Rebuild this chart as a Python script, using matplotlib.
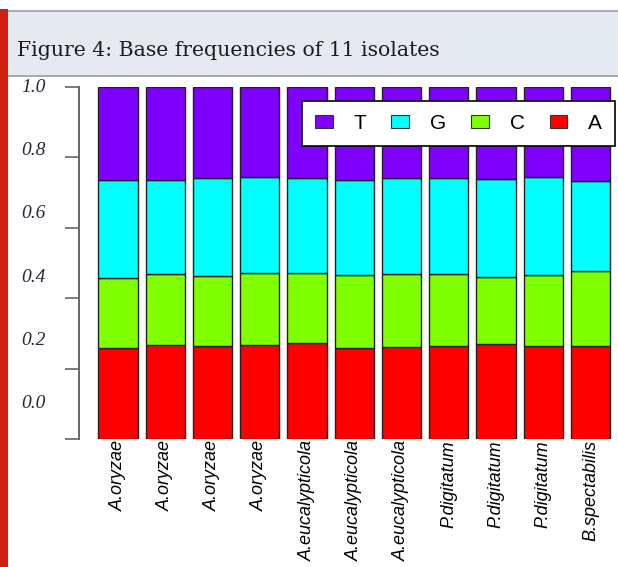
import numpy as np
import matplotlib
matplotlib.use('Agg')
import matplotlib.pyplot as plt
import matplotlib.transforms as mtransforms
from matplotlib.patches import Rectangle, Patch

# base composition per isolate (fractions, stacked A, C, G, T from the bottom)
isolates = ['A.oryzae', 'A.oryzae', 'A.oryzae', 'A.oryzae',
            'A.eucalypticola', 'A.eucalypticola', 'A.eucalypticola',
            'P.digitatum', 'P.digitatum', 'P.digitatum', 'B.spectabilis']
freq_A = [0.259, 0.267, 0.264, 0.267, 0.272, 0.258, 0.262, 0.265, 0.269, 0.265, 0.265]
freq_C = [0.199, 0.201, 0.199, 0.204, 0.201, 0.207, 0.207, 0.204, 0.190, 0.200, 0.212]
freq_G = [0.278, 0.268, 0.278, 0.272, 0.268, 0.271, 0.272, 0.272, 0.281, 0.278, 0.257]
freq_T = [0.264, 0.264, 0.259, 0.258, 0.259, 0.264, 0.259, 0.259, 0.259, 0.257, 0.266]

bases = ['A', 'C', 'G', 'T']
base_colors = ['#FF0000', '#80FF00', '#00FFFF', '#8000FF']
y_ticks = [0.0, 0.2, 0.4, 0.6, 0.8, 1.0]
y_tick_labels = ['0.0', '0.2', '0.4', '0.6', '0.8', '1.0']

W, H = 618, 567
fig = plt.figure(figsize=(W / 100, H / 100), dpi=100)
fig.patch.set_facecolor('white')

# caption banner and red side strip
fig.patches.append(Rectangle((8 / W, 1 - 76 / H), 1, 64 / H, transform=fig.transFigure,
                             facecolor='#E4EAF0', edgecolor='none', zorder=0))
for yy in (11, 76):
    fig.patches.append(Rectangle((8 / W, 1 - (yy + 1) / H), 1, 2 / H, transform=fig.transFigure,
                                 facecolor='#ABABAB', edgecolor='none', zorder=1))
fig.patches.append(Rectangle((0, 0), 8 / W, 1 - 9 / H, transform=fig.transFigure,
                             facecolor='#D21F12', edgecolor='none', zorder=2))
fig.text(17 / W, 1 - 55.5 / H, 'Figure 4: Base frequencies of 11 isolates',
         family='DejaVu Serif', fontsize=14.7, color='#1c1c1c', va='baseline')

ax = fig.add_axes([79 / W, 1 - 439 / H, 1 - 79 / W, 352 / H])

x = 0.7 + 1.2 * np.arange(len(isolates))
stack = np.array([freq_A, freq_C, freq_G, freq_T])
bottom = np.zeros(len(isolates))
for vals, col in zip(stack, base_colors):
    ax.bar(x, vals, width=1.0, bottom=bottom, color=col, edgecolor='#222222',
           linewidth=1.0, zorder=2)
    bottom += vals

ax.set_xlim(-0.29, 13.4)
ax.set_ylim(0, 1)
for side in ('top', 'right', 'bottom'):
    ax.spines[side].set_visible(False)
ax.spines['left'].set_color('#666666')
ax.spines['left'].set_linewidth(1.4)
ax.set_yticks(y_ticks)
ax.set_yticklabels([])
ax.tick_params(axis='y', length=10, width=1.2, color='#666666')
ax.set_xticks([])

# value labels on the left sit a little off their ticks
trans = mtransforms.blended_transform_factory(fig.transFigure, ax.transData)
label_y = np.linspace(0.10, 1.0, len(y_ticks))
for lab, yy in zip(y_tick_labels, label_y):
    fig.text(46 / W, yy, lab, transform=trans, ha='right', va='center',
             family='Liberation Serif', style='italic', fontsize=14, color='#262838')

for xi, name in zip(x, isolates):
    ax.text(xi, -0.003, name, rotation=90, ha='center', va='top',
            family='Liberation Sans', style='italic', fontsize=13, color='black',
            clip_on=False)

handles = [Patch(facecolor=c, edgecolor='#333333', linewidth=0.8)
           for c in base_colors[::-1]]
leg = ax.legend(handles, bases[::-1], ncol=4, loc='upper right',
                bbox_to_anchor=(615 / W, 1 - 101 / H), bbox_transform=fig.transFigure,
                prop={'family': 'Liberation Sans', 'size': 15},
                handlelength=0.85, handleheight=0.58, handletextpad=1.0,
                columnspacing=1.2, borderpad=0.62, borderaxespad=0,
                fancybox=False, framealpha=1, edgecolor='black')
leg.get_frame().set_linewidth(1.2)
leg.set_zorder(5)

fig.savefig('out.png', dpi=100)
